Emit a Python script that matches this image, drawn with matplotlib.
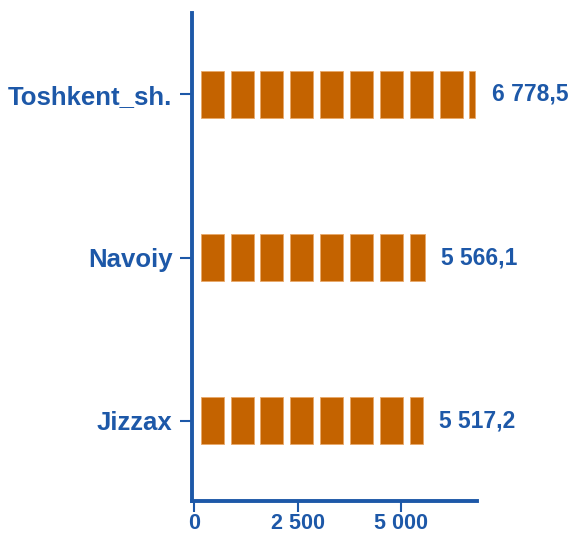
import matplotlib.pyplot as plt
import numpy as np

plt.rcParams['font.family'] = ['Liberation Sans', 'DejaVu Sans']

regions = ['Jizzax', 'Navoiy', 'Toshkent_sh.']
values = [5517.2, 5566.1, 6778.5]
labels = ['5 517,2', '5 566,1', '6 778,5']
xticks = [0, 2500, 5000]
xticklabels = ['0', '2 500', '5 000']

blue = '#1D58A8'
orange = '#C46300'
step = 720
gap = 165

fig = plt.figure(figsize=(5.75, 5.36), dpi=100)
ax = fig.add_axes([0.334, 0.066, 0.495, 0.91])

y = np.arange(len(regions))
for yi, v, lab in zip(y, values, labels):
    # bar drawn as blocks with white gaps
    starts = np.arange(0, v, step) + gap
    for s in starts:
        if s >= v:
            continue
        w = min(s - gap + step, v) - s
        ax.barh(yi, w, left=s, height=0.29, color=orange,
                edgecolor='#E9A869', linewidth=0.6)
    ax.text(v + 400, yi, lab, va='center', ha='left', color=blue,
            fontsize=16.5, fontweight='bold')

ax.set_xlim(-45, 6820)
ax.set_ylim(-0.49, 2.5)
ax.set_yticks(y)
ax.set_yticklabels(regions)
ax.set_xticks(xticks)
ax.set_xticklabels(xticklabels)

for sp in ['top', 'right']:
    ax.spines[sp].set_visible(False)
for sp in ['left', 'bottom']:
    ax.spines[sp].set_color(blue)
    ax.spines[sp].set_linewidth(2.8)

ax.tick_params(axis='both', colors=blue, length=9, width=1.5)
ax.tick_params(axis='y', labelsize=18.5, pad=5)
ax.tick_params(axis='x', labelsize=15.5, pad=1, length=8)
for t in ax.get_xticklabels() + ax.get_yticklabels():
    t.set_fontweight('bold')
    t.set_color(blue)

fig.savefig('out.png', dpi=100)
